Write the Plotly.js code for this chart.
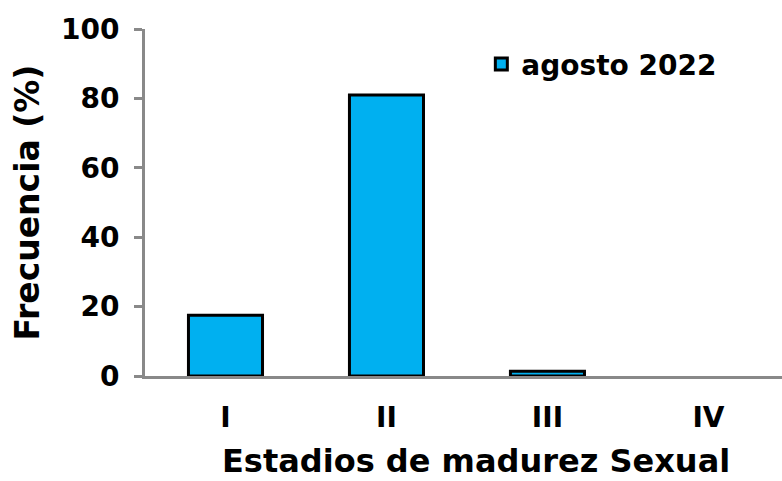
<!DOCTYPE html>
<html>
<head>
<meta charset="utf-8">
<script src="https://cdn.plot.ly/plotly-3.0.1.min.js"></script>
<style>html,body{margin:0;padding:0;background:#fff;}#chart{width:782px;height:481px;}</style>
</head>
<body>
<div id="chart"></div>
<script>
const categories = ["I", "II", "III", "IV"];
const seriesName = "agosto 2022";
const values = [17.5, 81, 1.4, 0];
const yTicks = [0, 20, 40, 60, 80, 100];
const xTitle = "Estadios de madurez Sexual";
const yTitle = "Frecuencia (%)";

const FONT = "DejaVu Sans, Verdana, sans-serif";

const trace = {
  type: "bar",
  x: categories,
  y: values,
  name: seriesName,
  width: 0.46,
  marker: {
    color: "#00B0F0",
    line: { color: "#000000", width: values.map(v => (v > 0 ? 3 : 0)) }
  },
  showlegend: true,
  hoverinfo: "skip"
};

const layout = {
  width: 782,
  height: 481,
  margin: { l: 145, r: 0, t: 29, b: 105, pad: 0 },
  paper_bgcolor: "#ffffff",
  plot_bgcolor: "#ffffff",
  font: { family: FONT, color: "#000000", weight: "bold" },
  showlegend: true,
  legend: {
    x: 0.528, y: 0.97, xanchor: "left", yanchor: "top",
    font: { size: 28, family: FONT, weight: "bold", color: "#000" },
    bgcolor: "rgba(0,0,0,0)", itemwidth: 30
  },
  xaxis: {
    type: "category",
    range: [-0.5, 3.457],
    showline: true, linecolor: "#898989", linewidth: 3,
    layer: "above traces",
    ticks: "", showgrid: false, zeroline: false,
    tickfont: { size: 28, family: FONT, weight: "bold" },
    ticklabelstandoff: 14,
    fixedrange: true
  },
  yaxis: {
    range: [0, 100],
    tickvals: yTicks,
    ticktext: yTicks.map(String),
    showline: true, linecolor: "#898989", linewidth: 3,
    ticks: "outside", ticklen: 8, tickwidth: 3, tickcolor: "#898989",
    showgrid: false, zeroline: false,
    tickfont: { size: 28, family: FONT, weight: "bold" },
    ticklabelstandoff: 9,
    title: { text: yTitle, font: { size: 33, family: FONT, weight: "bold" }, standoff: 12 },
    fixedrange: true
  },
  annotations: [{
    text: xTitle,
    xref: "paper", yref: "paper",
    x: 0.52, y: -0.245,
    xanchor: "center", yanchor: "middle",
    borderpad: 0,
    showarrow: false,
    font: { size: 32, family: FONT, weight: "bold", color: "#000" }
  }]
};

Plotly.newPlot("chart", [trace], layout, { displayModeBar: false, staticPlot: true });
</script>
</body>
</html>
